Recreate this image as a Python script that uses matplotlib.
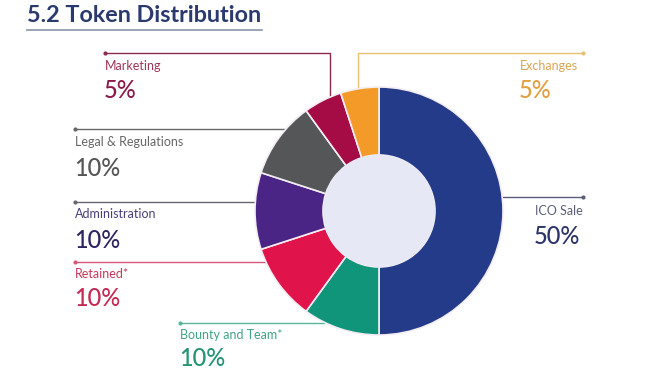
import matplotlib
matplotlib.use("Agg")
import matplotlib.pyplot as plt
from matplotlib.patches import Circle

plt.rcParams['font.family'] = ['Lato', 'DejaVu Sans']

# ---- data ----
categories = ["ICO Sale", "Bounty and Team*", "Retained*", "Administration",
              "Legal & Regulations", "Marketing", "Exchanges"]
shares = [50, 10, 10, 10, 10, 5, 5]
pct_labels = ["50%", "10%", "10%", "10%", "10%", "5%", "5%"]
title = "5.2 Token Distribution"

wedge_colors = ["#243b8a", "#10957a", "#e0144b", "#4b2586", "#555658", "#a50b45", "#f39a28"]
label_colors = ["#5a5f78", "#3fa585", "#c8385a", "#4a3d78", "#666666", "#a0345a", "#d9a550"]
pct_colors = ["#2d3568", "#239474", "#c42a52", "#2e2462", "#555555", "#8b1a4a", "#e0a040"]
line_colors = ["#5a5f78", "#5ab59a", "#d8587a", "#666670", "#666666", "#8b2a50", "#e8c070"]

W, H = 657, 375
fig = plt.figure(figsize=(W / 100, H / 100), dpi=100)
ax = fig.add_axes([0, 0, 1, 1])
ax.set_xlim(0, W)
ax.set_ylim(0, H)
ax.set_aspect('equal')
ax.axis('off')

def Y(y):
    return H - y

cx, cy, R = 379, 211, 124
hole = 56

leaders = {
    "ICO Sale": [(583, 197), (500, 197)],
    "Bounty and Team*": [(180, 323), (325, 323)],
    "Retained*": [(75, 262), (268, 262)],
    "Administration": [(75, 202), (258, 202)],
    "Legal & Regulations": [(75, 129), (290, 129)],
    "Marketing": [(105, 53), (330, 53), (330, 100)],
    "Exchanges": [(583, 53), (358, 53), (358, 90)],
}
for cat, lc in zip(categories, line_colors):
    pts = leaders[cat]
    ax.plot([p[0] for p in pts], [Y(p[1]) for p in pts], color=lc, lw=1.0,
            zorder=1, solid_capstyle='butt')
    ax.plot([pts[0][0]], [Y(pts[0][1])], 'o', ms=2.0, color=lc, zorder=1)

wedges, _ = ax.pie(shares, colors=wedge_colors, startangle=90, counterclock=False,
                   center=(cx, Y(cy)), radius=R,
                   wedgeprops=dict(width=R - hole, edgecolor='#f4eef4', linewidth=1.2))
for w in wedges:
    w.set_zorder(2)
ax.add_patch(Circle((cx, Y(cy)), hole, facecolor='#e6e9f5', edgecolor='none', zorder=3))
ax.set_xlim(0, W)
ax.set_ylim(0, H)

text_pos = {
    "ICO Sale": (535, 211, 237),
    "Bounty and Team*": (180, 335, 359),
    "Retained*": (75, 274, 299),
    "Administration": (75, 214, 240),
    "Legal & Regulations": (75, 142, 168),
    "Marketing": (105, 66, 90),
    "Exchanges": (520, 66, 90),
}
for cat, pl, c1, c2 in zip(categories, pct_labels, label_colors, pct_colors):
    x, y1, y2 = text_pos[cat]
    ax.text(x, Y(y1), cat, color=c1, fontsize=9, ha='left', va='center')
    ax.text(x - 1, Y(y2), pl, color=c2, fontsize=17, fontweight='medium',
            ha='left', va='center')

ax.text(27, Y(16), title, color="#2b3a6e", fontsize=16.8, fontweight='bold',
        ha='left', va='center')
ax.plot([27, 262], [Y(30), Y(30)], color="#8a93b0", lw=1.2)

fig.savefig("out.png", dpi=100)
